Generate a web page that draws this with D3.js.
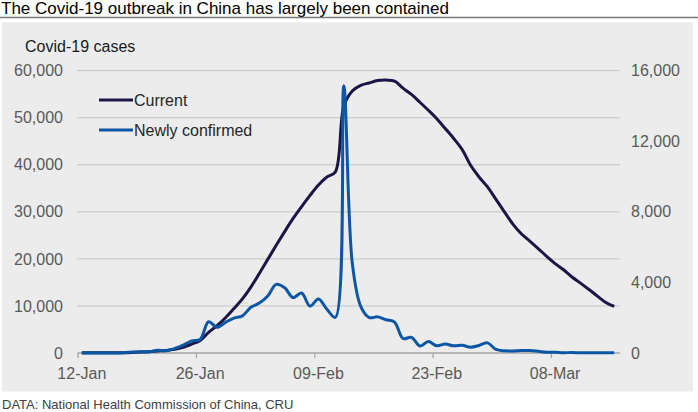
<!DOCTYPE html>
<html>
<head>
<meta charset="utf-8">
<title>Covid-19 cases in China</title>
<script src="https://d3js.org/d3.v7.min.js"></script>
<style>
  body { margin: 0; background: #fff; }
  text { font-family: "Liberation Sans", Arial, sans-serif; }
</style>
</head>
<body>
<div id="chart"></div>
<script>
	var width  = 698;
	var height = 412;

	// daily values, 12-Jan to 15-Mar 2020
	var startDate = new Date(2020, 0, 12);
	var endDate   = new Date(2020, 2, 16);

	var current = [
		41, 41, 41, 36, 40, 57, 116, 193, 266, 410,
		540, 780, 1210, 1890, 2650, 4390, 5820, 7500, 9450, 11500,
		14000, 16900, 19900, 22900, 25800, 28600, 31100, 33500, 35700, 37400,
		38500, 52500, 55700, 56900, 57400, 57900, 58000, 57800, 56300, 54950,
		53300, 51600, 49800, 47700, 45600, 43250, 39900, 37400, 35300, 32650,
		30000, 27400, 25350, 23800, 22200, 20550, 19000, 17700, 16150, 14850,
		13500, 12100, 10750, 9900
	];

	var newlyConfirmed = [
		0, 0, 0, 0, 4, 17, 59, 77, 77, 149,
		131, 259, 444, 688, 769, 1771, 1459, 1737, 1982, 2102,
		2590, 2829, 3235, 3887, 3694, 3143, 3399, 2656, 3062, 2478,
		2015, 15152, 5090, 2641, 2008, 2048, 1886, 1749, 820, 889,
		397, 648, 409, 508, 406, 433, 327, 427, 573, 202,
		125, 119, 139, 143, 99, 44, 40, 19, 24, 15,
		8, 11, 20, 16
	];

	var xTickDates  = [new Date(2020, 0, 12), new Date(2020, 0, 26), new Date(2020, 1, 9), new Date(2020, 1, 23), new Date(2020, 2, 8)];
	var leftTicks   = [0, 10000, 20000, 30000, 40000, 50000, 60000];
	var rightTicks  = [0, 4000, 8000, 12000, 16000];

	var seriesNames = ["Current", "Newly confirmed"];
	var colours     = ["#1b1646", "#0b57a6"];

	var titleText  = "The Covid-19 outbreak in China has largely been contained";
	var axisTitle  = "Covid-19 cases";
	var sourceText = "DATA: National Health Commission of China, CRU";

	var plot = {left: 77.6, right: 618.5, top: 70.7, bottom: 353};

	var xScale = d3.scaleTime().domain([startDate, endDate]).range([plot.left, plot.right]);
	var yLeft  = d3.scaleLinear().domain([0, 60000]).range([plot.bottom, plot.top]);
	var yRight = d3.scaleLinear().domain([0, 16000]).range([plot.bottom, plot.top]);

	// points sit in the middle of each day
	function dayCentre(i) {
		return xScale(d3.timeHour.offset(d3.timeDay.offset(startDate, i), 12));
	}

	var svg = d3.select("#chart").append("svg")
		.attr("width", width)
		.attr("height", height);

	// title and rule
	svg.append("text")
		.attr("x", 1).attr("y", 13.5)
		.attr("font-size", 17).attr("fill", "#000")
		.text(titleText);
	svg.append("line")
		.attr("x1", 0).attr("x2", width)
		.attr("y1", 17.5).attr("y2", 17.5)
		.attr("stroke", "#7a7a7a").attr("stroke-width", 1.5);

	// panel
	svg.append("rect")
		.attr("x", 2).attr("y", 22.5)
		.attr("width", 691).attr("height", 369)
		.attr("fill", "#ececec");

	svg.append("text")
		.attr("x", 25).attr("y", 52)
		.attr("font-size", 16).attr("fill", "#1a1a1a")
		.text(axisTitle);

	// gridlines
	svg.append("g").selectAll("line")
		.data(leftTicks.filter(d => d > 0))
		.join("line")
		.attr("x1", 77).attr("x2", 620)
		.attr("y1", d => yLeft(d)).attr("y2", d => yLeft(d))
		.attr("stroke", "#c4c4c4").attr("stroke-width", 1);

	// left axis
	var leftAxis = svg.append("g")
		.attr("transform", "translate(" + 63 + ",0)")
		.call(d3.axisLeft(yLeft).tickValues(leftTicks).tickSize(0).tickPadding(0).tickFormat(d3.format(",")));
	leftAxis.select(".domain").remove();
	leftAxis.selectAll("text")
		.attr("font-size", 16).attr("fill", "#595959")
		.attr("font-family", "Liberation Sans, Arial, sans-serif");

	// right axis
	var rightAxis = svg.append("g")
		.attr("transform", "translate(" + 631 + ",0)")
		.call(d3.axisRight(yRight).tickValues(rightTicks).tickSize(0).tickPadding(0).tickFormat(d3.format(",")));
	rightAxis.select(".domain").remove();
	rightAxis.selectAll("text")
		.attr("font-size", 16).attr("fill", "#595959")
		.attr("font-family", "Liberation Sans, Arial, sans-serif");

	// x axis line and ticks
	svg.append("line")
		.attr("x1", plot.left).attr("x2", 620)
		.attr("y1", plot.bottom).attr("y2", plot.bottom)
		.attr("stroke", "#a6a6a6").attr("stroke-width", 1.3);

	var xAxis = svg.append("g")
		.attr("transform", "translate(0," + plot.bottom + ")")
		.call(d3.axisBottom(xScale).tickValues(xTickDates).tickSize(5).tickFormat(""));
	xAxis.select(".domain").remove();
	xAxis.selectAll("line").attr("stroke", "#a6a6a6").attr("stroke-width", 1.3);

	svg.append("g").selectAll("text")
		.data(xTickDates)
		.join("text")
		.attr("x", d => xScale(d3.timeHour.offset(d, 12)))
		.attr("y", 378.5)
		.attr("text-anchor", "middle")
		.attr("font-size", 16).attr("fill", "#595959")
		.text(d3.timeFormat("%d-%b"));

	// lines
	var lineLeft = d3.line()
		.x((d, i) => dayCentre(i))
		.y(d => yLeft(d))
		.curve(d3.curveCatmullRom.alpha(0.5));

	var lineRight = d3.line()
		.x((d, i) => dayCentre(i))
		.y(d => yRight(d))
		.curve(d3.curveCatmullRom.alpha(0.5));

	svg.append("path")
		.datum(current)
		.attr("d", lineLeft)
		.attr("fill", "none")
		.attr("stroke", colours[0])
		.attr("stroke-width", 3)
		.attr("stroke-linejoin", "round");

	svg.append("path")
		.datum(newlyConfirmed)
		.attr("d", lineRight)
		.attr("fill", "none")
		.attr("stroke", colours[1])
		.attr("stroke-width", 3)
		.attr("stroke-linejoin", "round");

	// legend
	var legend = svg.append("g").selectAll("g")
		.data(seriesNames)
		.join("g")
		.attr("transform", (d, i) => "translate(99," + (100 + i * 30) + ")");
	legend.append("line")
		.attr("x1", 0).attr("x2", 34)
		.attr("stroke", (d, i) => colours[i])
		.attr("stroke-width", 3.2);
	legend.append("text")
		.attr("x", 35).attr("y", 5.8)
		.attr("font-size", 16).attr("fill", "#262626")
		.text(d => d);

	// source
	svg.append("text")
		.attr("x", 2).attr("y", 409)
		.attr("font-size", 13).attr("fill", "#404040")
		.text(sourceText);
</script>
</body>
</html>
